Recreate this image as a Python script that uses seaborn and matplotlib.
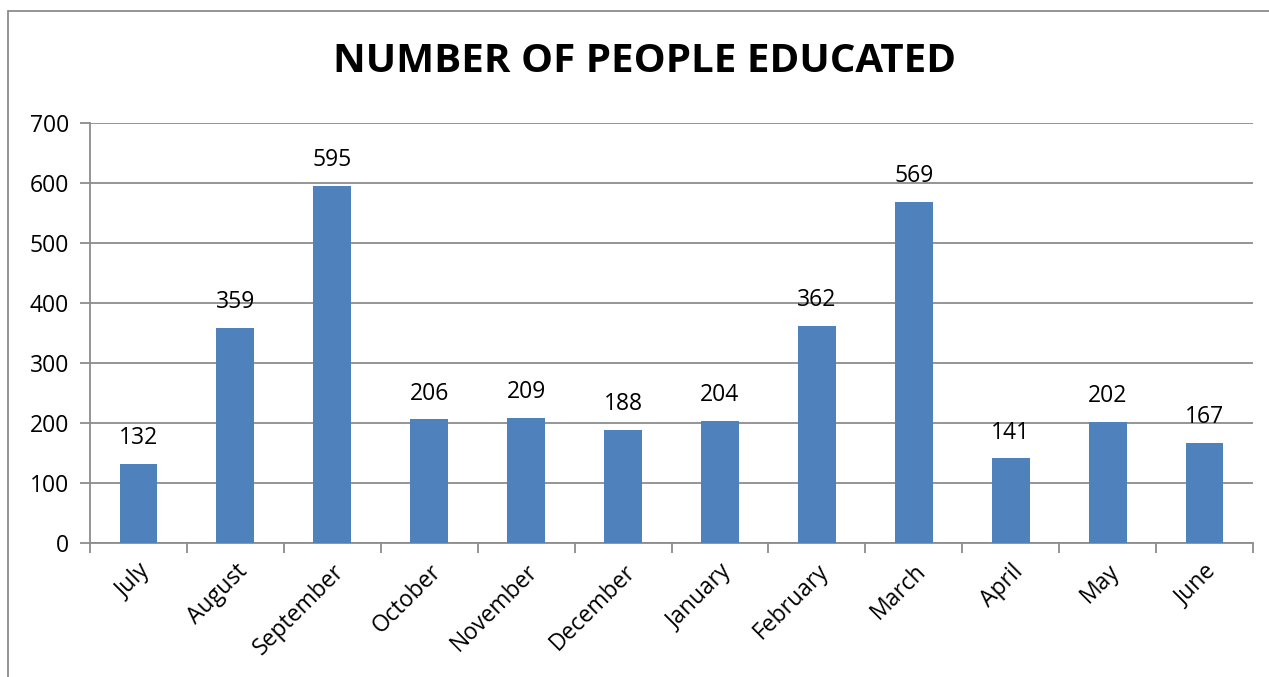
import matplotlib
matplotlib.use("Agg")
import matplotlib.pyplot as plt
from matplotlib.lines import Line2D
import seaborn as sns
import pandas as pd
import numpy as np

months = ["July", "August", "September", "October", "November", "December",
          "January", "February", "March", "April", "May", "June"]
people = [132, 359, 595, 206, 209, 188, 204, 362, 569, 141, 202, 167]
yticks = [0, 100, 200, 300, 400, 500, 600, 700]

sns.set_theme(style="white")
plt.rcParams['font.family'] = ['Open Sans', 'DejaVu Sans']

df = pd.DataFrame({"month": months, "people": people})

fig = plt.figure(figsize=(12.69, 6.77), dpi=100)
ax = fig.add_axes([90/1269, 1-543/677, (1253-90)/1269, (543-123)/677])

sns.barplot(data=df, x="month", y="people", color="#4F81BD", saturation=1,
            width=0.39, ax=ax, zorder=3, linewidth=0, edgecolor="none")

grid_c = "#8C8C8C"
fs = 16.5
ax.set_ylim(0, 700)
ax.set_xlim(-0.5, len(months) - 0.5)
ax.set_yticks(yticks)
ax.set_yticklabels([str(v) for v in yticks], fontsize=fs, color="black")
ax.yaxis.grid(True, color=grid_c, linewidth=1.3, zorder=0)
ax.set_axisbelow(True)
for s in ["top", "right"]:
    ax.spines[s].set_visible(False)
for s in ["left", "bottom"]:
    ax.spines[s].set_color(grid_c)
    ax.spines[s].set_linewidth(1.3)

ax.set_xticks(range(len(months)))
ax.set_xticklabels(months, rotation=45, ha="right", rotation_mode="anchor",
                   fontsize=fs, color="black")
ax.set_xticks(np.arange(-0.5, len(months), 1.0), minor=True)
ax.tick_params(axis="x", which="major", length=0, pad=12)
ax.tick_params(axis="x", which="minor", length=7, width=1.3, color=grid_c, direction="out", bottom=True)
ax.tick_params(axis="y", length=7, width=1.3, color=grid_c, direction="out", left=True, pad=8)
ax.set_xlabel("")
ax.set_ylabel("")

for i, v in enumerate(people):
    ax.annotate(str(v), (i, v), xytext=(0, 10), textcoords="offset points",
                ha="center", va="bottom", fontsize=fs, color="black")

fig.text(645/1269, 1-62/677, "NUMBER OF PEOPLE EDUCATED", ha="center", va="center",
         fontsize=29, fontweight="bold", color="black")

# outer chart frame (left and top)
fig.add_artist(Line2D([8/1269, 8/1269], [0, 1-11/677], transform=fig.transFigure,
                      color="#8C8C8C", linewidth=1.3))
fig.add_artist(Line2D([8/1269, 1], [1-11/677, 1-11/677], transform=fig.transFigure,
                      color="#8C8C8C", linewidth=1.3))

fig.savefig("out.png", dpi=100)
